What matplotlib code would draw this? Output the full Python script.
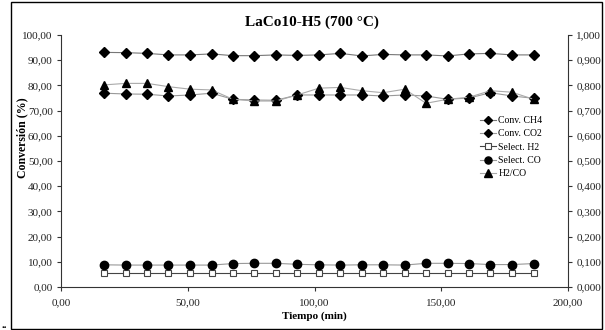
import matplotlib.pyplot as plt
from matplotlib.patches import Rectangle
from matplotlib.ticker import FuncFormatter, MultipleLocator

plt.rcParams['font.family'] = ['Liberation Serif', 'DejaVu Serif']

# --- data ---
tiempo = [17.0, 25.5, 34.0, 42.4, 50.9, 59.4, 67.8, 76.3, 84.8, 93.2, 101.7,
          110.2, 118.6, 127.1, 135.6, 144.0, 152.5, 161.0, 169.4, 177.9, 186.4]
conv_ch4 = [93.1, 93.0, 92.7, 92.1, 92.1, 92.5, 91.8, 91.8, 92.1, 91.9, 92.1,
            92.7, 91.7, 92.3, 92.1, 92.1, 91.7, 92.5, 92.7, 92.1, 92.1]
conv_co2 = [76.9, 76.6, 76.5, 75.8, 76.2, 76.9, 74.5, 74.2, 74.1, 76.2, 76.2,
            76.2, 76.2, 75.8, 76.2, 75.8, 74.5, 75.0, 77.1, 75.8, 74.9]
select_h2 = [5.4, 5.4, 5.4, 5.4, 5.4, 5.4, 5.4, 5.4, 5.4, 5.4, 5.4,
             5.4, 5.4, 5.4, 5.4, 5.4, 5.4, 5.4, 5.4, 5.4, 5.4]
select_co = [8.8, 8.7, 8.7, 8.7, 8.7, 8.7, 9.3, 9.4, 9.4, 9.0, 8.8,
             8.7, 8.8, 8.8, 8.7, 9.4, 9.4, 9.3, 8.9, 8.9, 9.3]
h2_co = [0.802, 0.808, 0.808, 0.795, 0.785, 0.782, 0.745, 0.738, 0.738, 0.762, 0.789,
         0.792, 0.779, 0.771, 0.785, 0.729, 0.745, 0.753, 0.779, 0.773, 0.745]

title = 'LaCo10-H5 (700 °C)'
xlabel = 'Tiempo (min)'
ylabel = 'Conversión (%)'


def coma(fmt):
    return FuncFormatter(lambda v, p: format(v, fmt).replace('.', ','))


W, H = 605, 330
fig = plt.figure(figsize=(W / 100, H / 100), dpi=100)
ax = fig.add_axes([61 / W, 1 - 287 / H, (568 - 61) / W, (287 - 35) / H])
ax2 = ax.twinx()

axis_col = '#333333'
l1, = ax.plot(tiempo, conv_ch4, color='#777777', lw=0.8, marker='D', ms=4.6,
              mfc='black', mec='black', label='Conv. CH4')
l2, = ax.plot(tiempo, conv_co2, color='#999999', lw=0.8, marker='D', ms=4.6,
              mfc='black', mec='black', label='Conv. CO2')
l3, = ax.plot(tiempo, select_h2, color='#444444', lw=0.8, marker='s', ms=5,
              mfc='white', mec='#444444', mew=0.8, label='Select. H2')
l4, = ax.plot(tiempo, select_co, color='#999999', lw=0.8, marker='o', ms=6,
              mfc='black', mec='black', label='Select. CO')
l5, = ax2.plot(tiempo, h2_co, color='#aaaaaa', lw=0.8, marker='^', ms=6,
               mfc='black', mec='black', label='H2/CO')

ax.set_xlim(0, 200)
ax.set_ylim(0, 100)
ax2.set_ylim(0, 1)
ax.xaxis.set_major_locator(MultipleLocator(50))
ax.yaxis.set_major_locator(MultipleLocator(10))
ax2.yaxis.set_major_locator(MultipleLocator(0.1))
ax.xaxis.set_major_formatter(coma('.2f'))
ax.yaxis.set_major_formatter(coma('.2f'))
ax2.yaxis.set_major_formatter(coma('.3f'))

for a in (ax, ax2):
    a.spines['top'].set_visible(False)
    for s in a.spines.values():
        s.set_color(axis_col)
        s.set_linewidth(0.8)
    a.tick_params(direction='out', length=3, width=0.8, color=axis_col,
                  labelsize=8, pad=3, labelcolor='#222222')
ax.tick_params(axis='x', pad=5)
ax.spines['right'].set_visible(False)
ax2.spines['left'].set_visible(False)
ax2.spines['bottom'].set_visible(False)

ax.set_xlabel(xlabel, fontsize=8, fontweight='bold', labelpad=3)
fig.text(22 / W, 1 - 138 / H, ylabel, rotation=90, ha='center', va='center',
         fontsize=8.5, fontweight='bold')
fig.text(312 / W, 1 - 22 / H, title, ha='center', va='center',
         fontsize=11, fontweight='bold')

fig.legend(handles=[l1, l2, l3, l4, l5], loc='upper left',
           bbox_to_anchor=(480 / W, 1 - 116 / H), frameon=False, fontsize=7,
           handlelength=1.6, handletextpad=0.3, labelspacing=0.45,
           borderaxespad=0, borderpad=0, markerscale=0.85)

# marco de la figura
fig.patches.append(Rectangle((11 / W, 1 / H), (602 - 11) / W, (328 - 1) / H,
                             transform=fig.transFigure, fill=False,
                             edgecolor='black', lw=1))
fig.text(1 / W, 1 - 328 / H, '..', fontsize=8, fontweight='bold', va='baseline')

fig.savefig('out.png', dpi=100)
